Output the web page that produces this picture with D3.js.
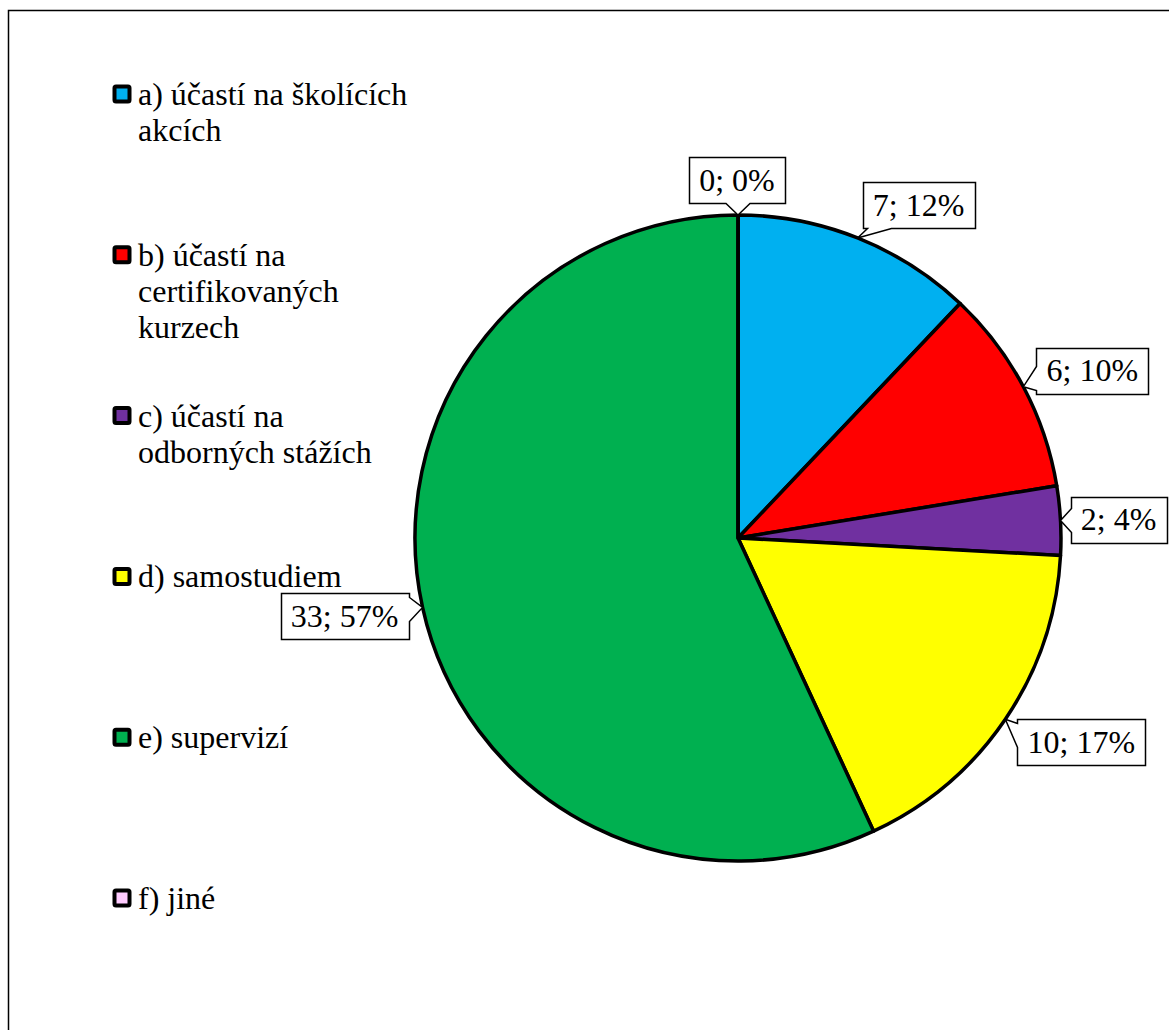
<!DOCTYPE html>
<html>
<head>
<meta charset="utf-8">
<script src="https://cdn.jsdelivr.net/npm/d3@7"></script>
<style>
body { margin: 0; background: #fff; }
</style>
</head>
<body>
<script>
var categories = ["a) účastí na školících akcích", "b) účastí na certifikovaných kurzech",
	"c) účastí na odborných stážích", "d) samostudiem", "e) supervizí", "f) jiné"];
var values = [7, 6, 2, 10, 33, 0];
var pctLabels = ["12%", "10%", "4%", "17%", "57%", "0%"];
var colors = ["#00B0F0", "#FF0000", "#7030A0", "#FFFF00", "#00B050", "#FFCCFF"];

// where each data label box sits, relative to the point on the rim
var labelShift = [[61, -33], [69, -16], [58, -1], [76, 23], [-78, 9], [-1, -35]];

var w = 1169;
var h = 1030;
var cx = 738, cy = 538, r = 323;
var fs = 32;
var font = "'Liberation Serif', 'Times New Roman', serif";

var svg = d3.select("body")
			.append("svg")
			.attr("width", w)
			.attr("height", h)
			.attr("font-family", font);

// outer frame (runs off the right/bottom edge)
svg.append("rect")
	.attr("x", 8.5).attr("y", 10.5)
	.attr("width", 1200).attr("height", 1100)
	.attr("fill", "none").attr("stroke", "#000").attr("stroke-width", 1.5);

// legend
var legendY0 = 105, legendStep = 160.8, lineH = 36, maxW = 275;
var legend = svg.append("g");
categories.forEach(function(name, i){
	var y = legendY0 + i * legendStep;
	legend.append("rect")
		.attr("x", 114.5).attr("y", y - 18.5)
		.attr("width", 15).attr("height", 15)
		.attr("fill", colors[i]).attr("stroke", "#000").attr("stroke-width", 4)
		.attr("rx", 1.5);
	var t = legend.append("text").attr("x", 138).attr("y", y)
		.attr("font-family", font).attr("font-size", fs);
	var words = name.split(" ");
	var line = [];
	var ts = t.append("tspan").attr("x", 138).attr("y", y);
	var lineNo = 0;
	words.forEach(function(wd){
		line.push(wd);
		ts.text(line.join(" "));
		if(ts.node().getComputedTextLength() > maxW && line.length > 1){
			line.pop();
			ts.text(line.join(" "));
			line = [wd];
			lineNo++;
			ts = t.append("tspan").attr("x", 138).attr("y", y + lineNo * lineH).text(wd);
		}
	});
});

// pie
var pie = d3.pie().sort(null).value(function(d){ return d; });
var arcs = pie(values);
var arc = d3.arc().innerRadius(0).outerRadius(r);

var g = svg.append("g").attr("transform", "translate(" + cx + "," + cy + ")");
g.selectAll("path.slice")
	.data(arcs)
	.enter()
	.append("path")
	.attr("class", "slice")
	.attr("d", arc)
	.attr("fill", function(d, i){ return colors[i]; })
	.attr("stroke", "#000")
	.attr("stroke-width", 3.5)
	.attr("stroke-linejoin", "round");

// callout labels
function clamp(v, a, b){ return Math.max(a, Math.min(b, v)); }
function callout(x0, y0, x1, y1, tx, ty){
	var hw = 12;
	var ox = tx < x0 ? x0 - tx : (tx > x1 ? tx - x1 : 0);
	var oy = ty < y0 ? y0 - ty : (ty > y1 ? ty - y1 : 0);
	if(oy >= ox){
		var bx = clamp(tx, x0 + hw + 4, x1 - hw - 4);
		if(ty > y1)
			return "M" + x0 + "," + y0 + "H" + x1 + "V" + y1 + "H" + (bx + hw) + "L" + tx + "," + ty + "L" + (bx - hw) + "," + y1 + "H" + x0 + "Z";
		return "M" + x0 + "," + y0 + "H" + (bx - hw) + "L" + tx + "," + ty + "L" + (bx + hw) + "," + y0 + "H" + x1 + "V" + y1 + "H" + x0 + "Z";
	}
	var by = clamp(ty, y0 + hw + 4, y1 - hw - 4);
	if(tx < x0)
		return "M" + x0 + "," + y0 + "H" + x1 + "V" + y1 + "H" + x0 + "V" + (by + hw) + "L" + tx + "," + ty + "L" + x0 + "," + (by - hw) + "Z";
	return "M" + x0 + "," + y0 + "H" + x1 + "V" + (by - hw) + "L" + tx + "," + ty + "L" + x1 + "," + (by + hw) + "V" + y1 + "H" + x0 + "Z";
}

var labels = svg.append("g");
arcs.forEach(function(d, i){
	var mid = (d.startAngle + d.endAngle) / 2;
	var tx = cx + r * Math.sin(mid);
	var ty = cy - r * Math.cos(mid);
	var bxc = tx + labelShift[i][0];
	var byc = ty + labelShift[i][1];
	var lg = labels.append("g");
	var box = lg.append("path");
	var t = lg.append("text")
		.attr("x", bxc).attr("y", byc + fs * 0.33)
		.attr("text-anchor", "middle")
		.attr("font-family", font).attr("font-size", fs)
		.text(values[i] + "; " + pctLabels[i]);
	var tw = t.node().getComputedTextLength();
	var bw = Math.round(tw + 20), bh = 46;
	var x0 = Math.round(bxc - bw / 2) + 0.5, y0 = Math.round(byc - bh / 2) + 0.5;
	box.attr("d", callout(x0, y0, x0 + bw, y0 + bh, tx, ty))
		.attr("fill", "#fff").attr("stroke", "#000").attr("stroke-width", 1.5);
});
</script>
</body>
</html>
